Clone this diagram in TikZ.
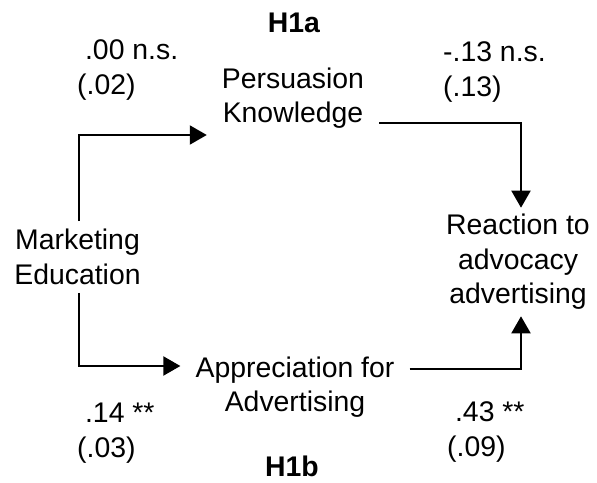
\documentclass[tikz,border=0pt]{standalone}
\usepackage{fontspec}
\setmainfont{Liberation Sans}
\usepackage{tikz}
\usetikzlibrary{arrows.meta, positioning}

\begin{document}
\begin{tikzpicture}[
    x=1bp, y=-1bp,
    every node/.style={font=\fontsize{28.5}{34.5}\selectfont},
    construct/.style={align=center, inner xsep=15bp, inner ysep=8bp},
    coef/.style={align=left, inner sep=0pt, anchor=west},
    hyp/.style={font=\fontsize{28.5}{34.5}\selectfont\bfseries, inner sep=0pt},
    arrow/.style={-{Triangle[length=17bp, width=19bp]}, line width=2bp}
]
    \useasboundingbox (0,0) rectangle (597,483);

    % Constructs
    \node[construct] (mkt) at (77.5, 257) {Marketing\\Education};
    \node[construct] (pk) at (293, 98) {Persuasion\\Knowledge};
    \node[construct] (afa) at (295, 387) {Appreciation for\\Advertising};
    \node[construct, inner ysep=6.5bp] (react) at (518, 262) {Reaction to\\advocacy\\advertising};

    % Hypotheses
    \node[hyp] (h1a) at (294, 23) {H1a};
    \node[hyp] (h1b) at (292, 466) {H1b};

    % Path coefficients
    \node[coef] (c_mpk) at (77, 70) {\ .00 n.s.\\(.02)};
    \node[coef] (c_pkr) at (443, 72) {-.13 n.s.\\(.13)};
    \node[coef] (c_mafa) at (77, 433) {\ .14 **\\(.03)};
    \node[coef] (c_afar) at (447, 432) {\ .43 **\\(.09)};

    \draw[arrow] ([xshift=1.5bp]mkt.north) |- ([yshift=-37bp]pk.west);
    \draw[arrow] ([yshift=-25bp]pk.east) -| ([xshift=3bp]react.north);
    \draw[arrow] ([xshift=1.5bp]mkt.south) |- ([yshift=21bp]afa.west);
    \draw[arrow] ([yshift=18bp]afa.east) -| ([xshift=3bp]react.south);
\end{tikzpicture}
\end{document}
